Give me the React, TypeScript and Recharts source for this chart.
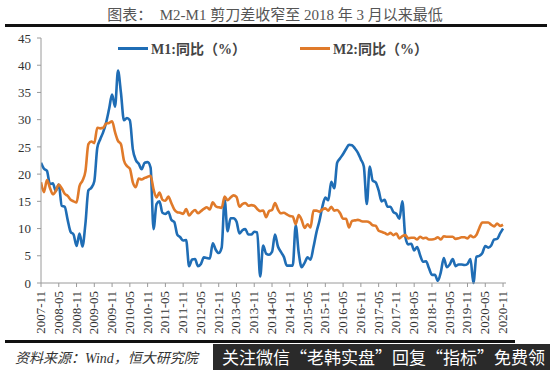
import { LineChart, Line, XAxis, YAxis } from 'recharts'

// 2007-11 .. 2020-11, monthly
const START_YEAR = 2007
const START_MONTH = 11

const M1 = [
  22.1, 21.0,
  20.6, 18.2, 18.3, 16.9, 18.1, 14.2, 14.0, 11.6, 9.4, 8.9, 6.8, 9.1,
  6.7, 10.9, 17.0, 17.5, 18.7, 24.8, 26.4, 27.7, 29.5, 32.0, 34.6, 32.4,
  39.0, 34.9, 29.9, 30.3, 29.9, 24.6, 22.6, 21.9, 20.9, 22.1, 22.2, 21.2,
  9.9, 14.5, 15.0, 12.9, 12.7, 13.1, 11.6, 11.2, 8.9, 8.4, 7.8, 7.9,
  3.1, 4.3, 4.4, 3.1, 3.5, 4.7, 4.6, 4.5, 7.3, 6.1, 5.5, 6.5,
  15.3, 9.5, 11.9, 11.9, 11.3, 9.1, 9.7, 9.9, 8.9, 8.9, 9.4, 9.3,
  1.2, 6.9, 5.4, 5.2, 5.7, 8.9, 6.7, 5.7, 4.8, 3.2, 3.2, 3.2,
  10.6, 5.6, 2.9, 3.7, 4.7, 4.3, 6.6, 9.3, 11.4, 14.0, 15.7, 15.2,
  18.6, 17.4, 22.1, 22.9, 23.7, 24.6, 25.4, 25.3, 24.7, 23.9, 22.7, 21.4,
  14.5, 21.4, 18.8, 18.5, 17.0, 15.0, 15.3, 14.0, 14.0, 13.0, 12.7, 11.8,
  15.0, 8.5, 7.1, 7.2, 6.0, 6.6, 5.1, 3.9, 4.0, 2.7, 1.5, 1.5,
  0.4, 2.0, 4.6, 2.9, 3.4, 4.4, 3.1, 3.4, 3.4, 3.3, 3.5, 4.4,
  0.0, 4.8, 5.0, 5.5, 6.8, 6.5, 6.9, 8.0, 8.1, 9.1, 10.0,
]

const M2 = [
  18.5, 16.7,
  18.9, 17.5, 16.3, 16.9, 18.1, 17.4, 16.4, 16.0, 15.3, 15.0, 14.8, 17.8,
  18.8, 20.5, 25.5, 26.0, 25.7, 28.5, 28.4, 28.5, 29.3, 29.4, 29.7, 27.7,
  26.1, 25.5, 22.5, 21.5, 21.0, 18.5, 17.6, 19.2, 19.0, 19.3, 19.5, 19.7,
  17.2, 15.7, 16.6, 15.3, 15.1, 15.9, 14.7, 13.5, 13.0, 12.9, 12.7, 13.6,
  12.4, 13.0, 13.4, 12.8, 13.2, 13.6, 13.9, 13.5, 14.8, 14.1, 13.9, 13.8,
  15.9, 15.2, 15.7, 16.1, 15.8, 14.0, 14.5, 14.7, 14.2, 14.3, 14.2, 13.6,
  13.2, 13.3, 12.1, 13.2, 13.4, 14.7, 13.5, 12.8, 12.9, 12.6, 12.3, 12.2,
  10.8, 12.5, 11.6, 10.1, 10.8, 10.2, 13.3, 13.3, 13.1, 13.5, 13.7, 13.3,
  14.0, 13.3, 13.4, 12.8, 11.8, 11.8, 10.2, 11.4, 11.5, 11.6, 11.4, 11.3,
  11.3, 11.1, 10.6, 10.5, 9.6, 9.4, 9.2, 8.9, 9.2, 8.8, 9.1, 8.2,
  8.6, 8.8, 8.2, 8.3, 8.3, 8.0, 8.5, 8.2, 8.3, 8.0, 8.0, 8.1,
  8.4, 8.0, 8.6, 8.5, 8.5, 8.5, 8.1, 8.2, 8.4, 8.4, 8.2, 8.7,
  8.4, 8.8, 10.1, 11.1, 11.1, 11.1, 10.7, 10.4, 10.9, 10.5, 10.7,
]

const Y_TICKS = [0, 5, 10, 15, 20, 25, 30, 35, 40, 45]

const monthLabel = (i: number) => {
  const m0 = START_MONTH - 1 + i
  const y = START_YEAR + Math.floor(m0 / 12)
  const m = (m0 % 12) + 1
  return `${y}-${m < 10 ? '0' + m : m}`
}

const data = M1.map((v, i) => ({ i, m1: v, m2: M2[i] }))
const xTicks = M1.map((_, i) => i).filter((i) => i % 6 === 0)

const BLUE = '#1F6DB5'
const ORANGE = '#E07A2A'
const SERIF = '"Times New Roman", "Liberation Serif", "Noto Sans CJK SC", serif'

const XTick = ({ x, y, payload }: any) => (
  <g transform={`translate(${x},${y})`}>
    <text transform="rotate(-90)" x={-2} y={0} dy={4} textAnchor="end" fill="#333" style={{ fontFamily: SERIF, fontSize: 13 }}>
      {monthLabel(payload.value)}
    </text>
  </g>
)

export default function App() {
  return (
    <div style={{ position: 'absolute', left: 0, top: 0, width: 550, height: 370, background: '#fff', overflow: 'hidden' }}>
      <div style={{ position: 'absolute', top: 3, left: 0, width: 550, textAlign: 'center', fontSize: 15, color: '#555', fontFamily: SERIF, whiteSpace: 'pre' }}>
        图表：  M2-M1 剪刀差收窄至 2018 年 3 月以来最低
      </div>
      <div style={{ position: 'absolute', top: 24, left: 5, width: 542, height: 3, background: '#111' }} />

      <LineChart width={550} height={370} data={data} margin={{ top: 38, right: 44, left: 11, bottom: 37 }}>
        <XAxis
          type="number"
          dataKey="i"
          domain={[0, 157]}
          ticks={xTicks}
          interval={0}
          tick={<XTick />}
          tickSize={4}
          height={50}
          stroke="#9a9a9a"
          allowDataOverflow
        />
        <YAxis
          domain={[0, 45]}
          ticks={Y_TICKS}
          interval={0}
          width={30}
          tickSize={4}
          tickMargin={6}
          stroke="#9a9a9a"
          tick={{ fill: '#333', style: { fontFamily: SERIF, fontSize: 13 } } as any}
        />
        <Line type="monotone" dataKey="m1" stroke={BLUE} strokeWidth={2.6} dot={false} isAnimationActive={false} />
        <Line type="monotone" dataKey="m2" stroke={ORANGE} strokeWidth={2.6} dot={false} isAnimationActive={false} />
      </LineChart>

      <div style={{ position: 'absolute', top: 38, left: 118, display: 'flex', alignItems: 'center', fontFamily: SERIF, fontWeight: 'bold', fontSize: 14, color: '#444' }}>
        <span style={{ display: 'inline-block', width: 30, height: 3, background: BLUE, marginRight: 3 }} />
        M1:同比（%）
      </div>
      <div style={{ position: 'absolute', top: 38, left: 300, display: 'flex', alignItems: 'center', fontFamily: SERIF, fontWeight: 'bold', fontSize: 14, color: '#444' }}>
        <span style={{ display: 'inline-block', width: 30, height: 3, background: ORANGE, marginRight: 3 }} />
        M2:同比（%）
      </div>

      <div style={{ position: 'absolute', top: 340, left: 5, width: 510, height: 3, background: '#111' }} />
      <div style={{ position: 'absolute', top: 347, left: 15, fontSize: 14, fontStyle: 'italic', color: '#333', fontFamily: SERIF }}>
        资料来源：Wind，恒大研究院
      </div>
      <div style={{ position: 'absolute', top: 344, left: 213, width: 337, height: 26, background: '#2a2a2a', color: '#fff', fontSize: 17, fontFamily: '"Noto Sans CJK SC", sans-serif', lineHeight: '26px', paddingLeft: 9, boxSizing: 'border-box', whiteSpace: 'nowrap' }}>
        关注微信“老韩实盘”回复“指标”免费领
      </div>
    </div>
  )
}
